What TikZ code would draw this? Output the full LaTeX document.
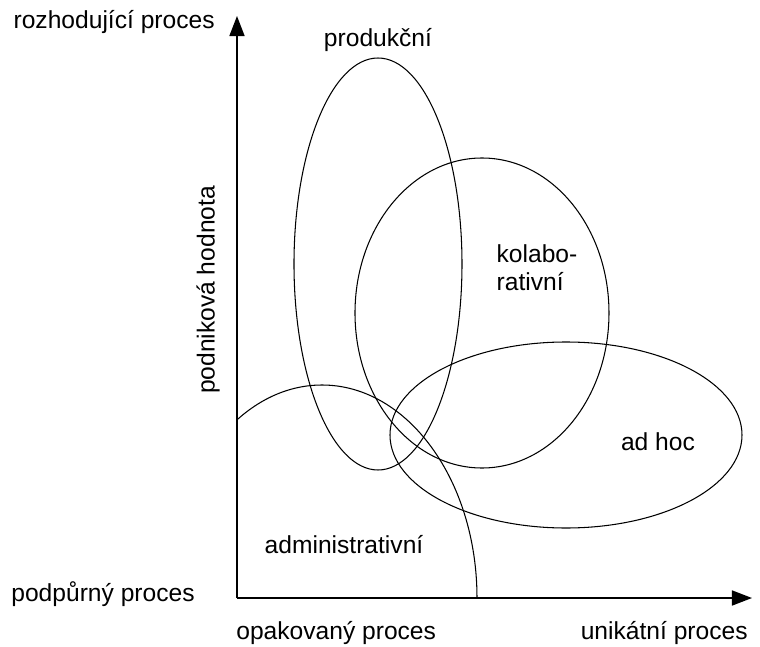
\documentclass[tikz,border=0pt]{standalone}
\usepackage{fontspec}
\setmainfont{Liberation Sans}
\usetikzlibrary{arrows.meta}
\usetikzlibrary{calc}

\begin{document}
\begin{tikzpicture}[font=\fontsize{14}{16}\selectfont, >={Triangle[length=.4cm,width=.3cm]}]
\useasboundingbox (-4.74,-0.96) rectangle (10.46,11.96);
\coordinate (O) at (0,0);
\coordinate (Ytop) at (0,11.64);
\coordinate (Xend) at (10.3,0);
\draw[black, line width=.9pt, ->] (O)--(Ytop);
\draw[black, line width=.9pt, ->] (O)--(Xend);
% axis labels
\node[anchor=east, inner sep=0] (rozh) at (-0.44,11.52) {rozhodující proces};
\node[anchor=east, inner sep=0] (podp) at (-0.84,0.08) {podpůrný proces};
\node[anchor=west, inner sep=0] (opak) at (-0.02,-0.7) {opakovaný proces};
\node[anchor=east, inner sep=0] (unik) at (10.22,-0.7) {unikátní proces};
\node[rotate=90, inner sep=0] (hodn) at (-0.58,6.16) {podniková hodnota};
% process types
\foreach \cx/\cy/\rx/\ry in {2.82/6.68/1.68/4.12, 4.9/5.7/2.54/3.1, 6.58/3.26/3.52/1.86}
 \draw[line width=.6pt] (\cx,\cy) ellipse [x radius=\rx, y radius=\ry];
\begin{scope}
 \clip (O) rectangle (11,12);
 \draw[line width=.6pt] (1.7,0) ellipse [x radius=3.1, y radius=4.26];
\end{scope}
\node (prod) at (2.82,11.16) {produkční};
\node[align=left] (kolab) at (6.0,6.6) {kolabo-\\rativní};
\node (adhoc) at (8.42,3.12) {ad hoc};
\node (admin) at (2.14,1.06) {administrativní};
\end{tikzpicture}
\end{document}
